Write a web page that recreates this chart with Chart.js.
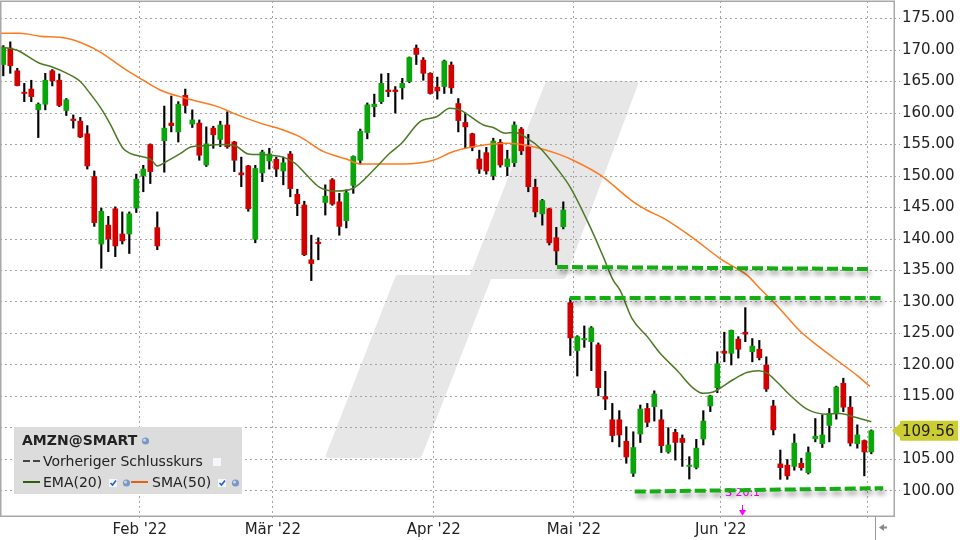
<!DOCTYPE html>
<html>
<head>
<meta charset="utf-8">
<script src="https://cdn.jsdelivr.net/npm/chart.js@4.4.0/dist/chart.umd.min.js"></script>
<style>
html, body { margin: 0; padding: 0; background: #fff; }
#graph { display: block; }
</style>
</head>
<body>
<canvas id="graph" width="960" height="540"></canvas>
<script>
// Handelstage 03.01.2022 - 01.07.2022
const dates = [
  "03.01","04.01","05.01","06.01","07.01","10.01","11.01","12.01","13.01","14.01","18.01","19.01","20.01","21.01","24.01","25.01","26.01","27.01","28.01","31.01",
  "01.02","02.02","03.02","04.02","07.02","08.02","09.02","10.02","11.02","14.02","15.02","16.02","17.02","18.02","22.02","23.02","24.02","25.02","28.02",
  "01.03","02.03","03.03","04.03","07.03","08.03","09.03","10.03","11.03","14.03","15.03","16.03","17.03","18.03","21.03","22.03","23.03","24.03","25.03","28.03","29.03","30.03","31.03",
  "01.04","04.04","05.04","06.04","07.04","08.04","11.04","12.04","13.04","14.04","18.04","19.04","20.04","21.04","22.04","25.04","26.04","27.04","28.04","29.04",
  "02.05","03.05","04.05","05.05","06.05","09.05","10.05","11.05","12.05","13.05","16.05","17.05","18.05","19.05","20.05","23.05","24.05","25.05","26.05","27.05","31.05",
  "01.06","02.06","03.06","06.06","07.06","08.06","09.06","10.06","13.06","14.06","15.06","16.06","17.06","21.06","22.06","23.06","24.06","27.06","28.06","29.06","30.06",
  "01.07"
];

const opens = [
  167.7,170.3,166.7,163.3,163.8,160.5,161.4,166.7,165.2,160.4,159.05,158.7,156.7,149.9,139.2,142.2,144.8,140.8,140.8,144.9,
  150.05,155.0,141.8,155.6,158.4,157.0,162.8,158.25,158.4,151.75,157.6,155.8,158.1,155.4,150.5,151.6,139.95,150.5,152.4,
  152.65,150.8,153.5,147.1,145.4,136.7,139.5,145.8,149.4,145.9,142.9,148.5,152.5,156.9,161.0,161.8,163.65,163.65,164.0,165.0,170.3,168.4,166.3,
  164.1,164.2,167.6,161.5,158.5,156.7,152.7,153.7,150.05,155.35,151.5,152.1,157.45,154.65,148.2,144.0,144.8,140.2,141.95,129.9,
  122.3,124.0,123.7,123.2,115.0,111.3,111.3,107.9,102.8,109.05,113.1,113.4,111.3,106.2,109.3,108.35,103.9,103.75,108.25,113.5,116.4,
  122.2,121.85,124.1,125.2,122.1,122.5,120.0,113.5,104.3,104.1,103.9,104.4,102.9,108.3,107.5,110.4,112.4,117.1,113.3,107.5,108.0,
  106.2
];
const highs = [
  170.7,171.3,167.1,164.7,165.2,161.6,166.3,166.9,166.2,162.3,159.7,159.3,158.0,150.8,144.9,143.6,145.1,144.3,144.3,150.3,
  151.7,155.1,144.3,161.1,162.7,161.8,163.8,160.5,158.9,157.8,157.9,158.7,160.2,155.5,153.0,151.7,151.7,154.1,154.4,
  153.0,153.0,153.9,147.9,146.0,140.6,140.2,148.6,149.6,147.25,147.8,153.2,157.45,161.6,163.0,166.2,166.3,164.2,165.5,168.9,170.8,168.8,166.4,
  165.7,168.4,168.1,162.3,160.0,156.8,154.1,154.55,156.0,155.8,154.1,158.6,157.7,156.6,149.5,146.3,144.9,141.85,145.9,130.6,
  124.65,126.2,126.1,123.5,119.0,113.9,112.75,110.2,109.4,113.65,113.9,115.9,112.9,110.05,109.8,108.9,105.45,108.2,112.75,115.2,122.1,
  125.2,125.55,124.5,129.1,124.2,123.9,121.3,114.4,106.5,105.0,109.05,105.2,107.0,111.5,112.1,113.1,116.65,117.9,115.0,110.5,108.1,
  109.7
];
const lows = [
  165.9,166.3,164.3,161.8,161.8,156.1,160.5,164.3,161.0,159.6,157.6,156.1,151.1,142.0,135.35,138.0,137.2,139.2,137.7,144.2,
  147.5,148.8,138.3,150.6,157.0,155.4,160.0,157.7,152.5,151.5,154.4,154.65,154.4,150.7,148.3,144.4,139.4,149.1,151.1,
  149.9,148.6,146.7,143.7,137.35,133.4,136.7,143.8,145.35,140.6,141.75,147.25,151.9,155.9,159.4,161.5,162.6,160.0,162.2,164.8,167.7,165.2,163.0,
  162.2,163.1,163.1,157.0,154.4,154.0,150.4,150.3,149.4,151.4,150.05,151.5,153.4,147.5,143.5,142.2,139.05,135.9,141.6,121.5,
  118.25,122.8,119.1,115.1,112.9,107.8,107.0,104.4,102.3,107.7,110.2,111.1,106.1,106.0,104.9,103.9,101.9,103.5,107.3,112.6,115.6,
  120.5,120.0,121.1,123.7,120.5,120.8,115.8,108.9,101.85,101.85,103.3,103.3,102.7,107.8,106.9,107.8,111.4,112.6,107.15,106.8,102.4,
  105.9
];
const closes = [
  170.4,167.5,164.35,163.1,162.6,161.4,165.2,165.1,161.2,162.1,158.8,156.2,151.6,142.6,144.4,140.0,138.9,139.7,144.0,149.5,
  151.1,150.7,138.9,157.6,158.0,161.4,161.2,158.9,153.3,155.1,156.55,158.1,154.65,152.5,150.2,144.8,151.2,153.8,153.5,
  151.1,152.1,148.0,145.6,137.5,136.1,139.25,146.8,145.55,142.0,147.35,153.1,157.1,161.3,161.4,164.7,163.4,163.4,164.7,168.8,169.3,166.3,163.1,
  163.5,168.25,164.0,158.8,157.8,154.55,151.1,150.8,155.55,151.75,152.7,158.1,154.0,148.3,144.3,146.1,139.4,138.1,144.6,124.3,
  124.5,124.2,125.9,116.4,114.6,108.8,108.9,105.4,106.9,113.0,110.9,115.4,107.2,107.3,107.7,107.7,104.1,106.8,111.1,115.1,120.2,
  121.85,125.5,122.5,124.9,123.0,121.15,116.2,109.7,103.7,102.4,107.6,103.7,106.1,108.7,108.9,112.3,116.5,113.3,107.6,108.9,106.2,
  109.56
];

// Indikatoren (x = Handelstag-Index)
const emaX = [-0.47,1.9,5.2,6.9,9.1,11,12.4,13.8,15.2,17.1,18.1,20.5,21.2,22,23.3,25.2,26.9,28.6,31,33.1,35,36.7,38.1,40,41.7,43.3,45.2,47.6,50,52.9,55.2,56.9,59.5,61.9,63.8,65.2,68.6,70,71.7,73.1,74.8,76.7,79.1,81,83.8,85.7,87.1,88.1,89.8,92,93.8,96.2,98.6,100,101.4,102.4,104.3,106.2,107.9,109.1,110.5,112.4,114.8,117.6,119.5,121.4,124];
const emaY = [170.5,170.0,167.9,167.35,166.3,165.0,163.1,161.0,158.4,154.4,153.6,152.9,152.5,151.6,152.3,153.5,154.65,154.8,155.0,154.8,153.5,153.4,153.3,153.0,152.0,150.2,148.2,147.6,148.05,150.95,153.6,155.2,158.6,159.4,160.75,160.5,158.1,157.7,156.8,156.9,156.0,154.4,151.2,148.2,142.0,137.2,133.5,131.9,127.4,124.5,121.9,119.2,116.3,115.5,115.7,116.3,117.7,118.8,119.1,118.7,117.35,115.2,113.0,112.2,112.3,111.8,111.0];
const smaX = [-0.47,2.4,5.2,9,11.9,13.8,17.6,20,22.4,26.2,30.9,32.9,36.7,40,42.4,45.7,49.1,51,57.1,61.4,64.3,67.1,71.9,75.7,79.5,81.4,85.2,90,91.9,94.3,98.6,102.4,104.3,106.2,108.3,110,111.9,113.8,117.1,120,121.9,123.8];
const smaY = [172.65,172.65,172.2,171.85,170.8,169.7,166.8,165.2,163.65,162.3,160.9,159.95,158.4,157.3,156.2,153.9,152.65,151.9,151.9,152.5,153.9,154.65,155.2,154.65,153.4,152.5,150.2,145.9,144.6,143.3,140.1,136.9,135.6,134.3,131.9,130.05,127.7,125.4,122.4,120.0,118.4,116.6];

// eingezeichnete Linien
const level1X = [79.1, 123.9], level1Y = [135.56, 135.24];
const level2X = [80.9, 125.6], level2Y = [130.65, 130.65];
const level3X = [90.2, 125.7], level3Y = [99.9, 100.45];

const monthTicks = [19.5, 38.5, 61.5, 81.5, 102.5, 123.5];
const monthLabels = ["Feb '22", "M\u00e4r '22", "Apr '22", "Mai '22", "Jun '22", ""];
const priceTicks = [100, 105, 110, 115, 120, 125, 130, 135, 140, 145, 150, 155, 160, 165, 170, 175];
const lastClose = 109.56;
const splitIndex = 105.6;

Chart.defaults.font.family = "'DejaVu Sans', sans-serif";
Chart.defaults.color = '#222';

const up = '#0aa50a', down = '#d40000';
const candleColors = closes.map((c, i) => c >= opens[i] ? up : down);
const pts = (xs, ys) => xs.map((x, k) => ({x: x, y: ys[k]}));

// Logo im Hintergrund (Pixel)
const logo = [[329,455],[398,278],[472,278],[548,84],[635,84],[563,276],[489,276],[419,455]];

const decor = {
  id: 'decor',
  beforeDraw(chart) {
    const ctx = chart.ctx;
    ctx.save();
    ctx.fillStyle = '#fff';
    ctx.fillRect(0, 0, chart.width, chart.height);
    ctx.beginPath();
    logo.forEach(([x, y], k) => k ? ctx.lineTo(x, y) : ctx.moveTo(x, y));
    ctx.closePath();
    ctx.fillStyle = '#e7e7e7';
    ctx.strokeStyle = '#e7e7e7';
    ctx.lineWidth = 6;
    ctx.lineJoin = 'round';
    ctx.fill();
    ctx.stroke();
    ctx.restore();
  },
  beforeDatasetsDraw(chart) {
    // Split-Marker
    const ctx = chart.ctx;
    const x = chart.scales.x.getPixelForValue(splitIndex);
    const b = chart.chartArea.bottom;
    ctx.save();
    ctx.fillStyle = '#ff00ff';
    ctx.strokeStyle = '#ff00ff';
    ctx.font = '11px "DejaVu Sans"';
    ctx.textAlign = 'center';
    ctx.textBaseline = 'middle';
    ctx.fillText('S 20:1', x, b - 23);
    ctx.lineWidth = 1;
    ctx.beginPath();
    ctx.moveTo(x, b - 11);
    ctx.lineTo(x, b - 5);
    ctx.stroke();
    ctx.beginPath();
    ctx.moveTo(x - 3.5, b - 6);
    ctx.lineTo(x + 3.5, b - 6);
    ctx.lineTo(x, b);
    ctx.closePath();
    ctx.fill();
    ctx.restore();
  },
  beforeDatasetDraw(chart, args) {
    if (chart.data.datasets[args.index].shadow) {
      const ctx = chart.ctx;
      ctx.save();
      ctx.shadowColor = 'rgba(0,0,0,0.38)';
      ctx.shadowBlur = 5;
      ctx.shadowOffsetX = 2;
      ctx.shadowOffsetY = 4;
    }
  },
  afterDatasetDraw(chart, args) {
    if (chart.data.datasets[args.index].shadow) chart.ctx.restore();
  },
  afterDraw(chart) {
    const ctx = chart.ctx;
    const a = chart.chartArea;
    ctx.save();
    // Rahmen
    ctx.strokeStyle = '#a8a8a8';
    ctx.lineWidth = 1.5;
    ctx.strokeRect(a.left + 0.75, a.top + 0.25, a.right - a.left - 0.5, a.bottom - a.top);

    // Kursmarke
    const y = chart.scales.y.getPixelForValue(lastClose);
    const r = a.right;
    ctx.fillStyle = '#cccc33';
    ctx.beginPath();
    ctx.moveTo(r - 2, y);
    ctx.lineTo(r + 6, y - 7);
    ctx.lineTo(r + 6, y - 9);
    ctx.quadraticCurveTo(r + 6, y - 10, r + 8, y - 10);
    ctx.lineTo(r + 64, y - 10);
    ctx.lineTo(r + 64, y + 10);
    ctx.lineTo(r + 8, y + 10);
    ctx.quadraticCurveTo(r + 6, y + 10, r + 6, y + 9);
    ctx.lineTo(r + 6, y + 7);
    ctx.closePath();
    ctx.fill();
    ctx.fillStyle = '#222';
    ctx.font = '15px "DejaVu Sans"';
    ctx.textBaseline = 'middle';
    ctx.textAlign = 'left';
    ctx.fillText(lastClose.toFixed(2), r + 8, y + 1);

    // Navigation unten rechts
    ctx.strokeStyle = '#999';
    ctx.lineWidth = 1;
    ctx.beginPath();
    ctx.moveTo(875.5, a.bottom);
    ctx.lineTo(875.5, 540);
    ctx.stroke();
    ctx.fillStyle = '#8a8a8a';
    ctx.beginPath();
    ctx.moveTo(879, 527.5);
    ctx.lineTo(884, 524);
    ctx.lineTo(884, 531);
    ctx.closePath();
    ctx.fill();
    ctx.fillRect(884, 526.5, 3, 2);

    // Legende
    ctx.fillStyle = '#dcdcdc';
    ctx.fillRect(14, 427, 228, 67);
    ctx.fillStyle = '#222';
    ctx.textBaseline = 'middle';
    ctx.font = 'bold 14px "DejaVu Sans"';
    ctx.fillText('AMZN@SMART', 22, 441);
    ctx.font = '14px "DejaVu Sans"';
    ctx.fillText('Vorheriger Schlusskurs', 43, 462);
    ctx.fillText('EMA(20)', 43, 483);
    ctx.fillText('SMA(50)', 152, 483);

    ctx.lineWidth = 2;
    ctx.strokeStyle = '#444';
    ctx.setLineDash([7, 3]);
    ctx.beginPath(); ctx.moveTo(23, 461); ctx.lineTo(40, 461); ctx.stroke();
    ctx.setLineDash([]);
    ctx.strokeStyle = '#2f5e0e';
    ctx.beginPath(); ctx.moveTo(23, 482); ctx.lineTo(40, 482); ctx.stroke();
    ctx.strokeStyle = '#e8600f';
    ctx.beginPath(); ctx.moveTo(131, 482); ctx.lineTo(148, 482); ctx.stroke();

    const globe = (gx, gy) => {
      ctx.fillStyle = '#7d97c4';
      ctx.beginPath(); ctx.arc(gx, gy, 3.6, 0, Math.PI * 2); ctx.fill();
      ctx.fillStyle = '#c9d6ec';
      ctx.beginPath(); ctx.arc(gx - 1, gy - 1, 1.5, 0, Math.PI * 2); ctx.fill();
    };
    const box = (bx, by, checked) => {
      ctx.fillStyle = '#f6f6fb';
      ctx.fillRect(bx, by, 8, 8);
      if (checked) {
        ctx.strokeStyle = '#1d5fd6';
        ctx.lineWidth = 1.6;
        ctx.beginPath(); ctx.moveTo(bx + 1.5, by + 4); ctx.lineTo(bx + 3.5, by + 6); ctx.lineTo(bx + 7, by + 1.5); ctx.stroke();
      }
    };
    globe(145.5, 441);
    box(213, 458, false);
    box(109, 479, true);
    globe(126.5, 483);
    box(218, 479, true);
    globe(235.5, 483);
    ctx.restore();
  }
};

const levelStyle = {
  type: 'line', borderColor: '#14ad14', borderWidth: 4, borderDash: [11, 4],
  pointRadius: 0, fill: false, shadow: true, order: 1
};

new Chart(document.getElementById('graph'), {
  type: 'bar',
  data: {
    datasets: [
      {
        label: 'Docht',
        data: dates.map((d, i) => ({x: i, y: [lows[i], highs[i]]})),
        backgroundColor: '#000',
        barThickness: 1.5,
        grouped: false,
        borderWidth: 0,
        order: 5
      },
      {
        label: 'AMZN',
        data: dates.map((d, i) => ({x: i, y: [opens[i], closes[i]]})),
        backgroundColor: candleColors,
        barThickness: 5,
        grouped: false,
        borderWidth: 0,
        order: 4
      },
      {
        type: 'line', label: 'SMA(50)', data: pts(smaX, smaY),
        borderColor: '#ff7a1e', borderWidth: 1.5, pointRadius: 0,
        cubicInterpolationMode: 'monotone', fill: false, order: 3
      },
      {
        type: 'line', label: 'EMA(20)', data: pts(emaX, emaY),
        borderColor: '#4b7a22', borderWidth: 1.5, pointRadius: 0,
        cubicInterpolationMode: 'monotone', fill: false, order: 2
      },
      Object.assign({label: 'Linie 1', data: pts(level1X, level1Y)}, levelStyle),
      Object.assign({label: 'Linie 2', data: pts(level2X, level2Y)}, levelStyle),
      Object.assign({label: 'Linie 3', data: pts(level3X, level3Y)}, levelStyle)
    ]
  },
  options: {
    responsive: false,
    animation: false,
    events: [],
    layout: { padding: { left: 0, top: 1, right: 0, bottom: 0 } },
    plugins: {
      legend: { display: false },
      tooltip: { enabled: false }
    },
    scales: {
      x: {
        type: 'linear',
        min: -0.47,
        max: 127.24,
        offset: false,
        afterFit(s) { s.height = 24; s.paddingLeft = 0; s.paddingRight = 0; },
        afterBuildTicks(s) { s.ticks = monthTicks.map(v => ({value: v})); },
        grid: { offset: false, color: '#a4a4a4', lineWidth: 1, tickLength: 4, tickColor: '#a4a4a4', tickBorderDash: [2, 3] },
        border: { display: true, width: 0, dash: [2, 3] },
        ticks: {
          autoSkip: false, maxRotation: 0, padding: 1,
          font: { size: 15 }, color: '#222',
          callback: (v, k) => monthLabels[k]
        }
      },
      y: {
        position: 'right',
        min: 96.03,
        max: 177.78,
        afterFit(s) { s.width = 66; s.paddingTop = 0; s.paddingBottom = 0; },
        afterBuildTicks(s) { s.ticks = priceTicks.map(v => ({value: v})); },
        grid: { color: '#a4a4a4', lineWidth: 1, tickLength: 6, tickColor: '#a4a4a4', tickBorderDash: [2, 3] },
        border: { display: true, width: 0, dash: [2, 3] },
        ticks: {
          padding: 2, font: { size: 15 }, color: '#222',
          // der Wert unter der Kursmarke bleibt verdeckt
          callback: v => Math.abs(v - lastClose) < 2.5 ? '' : v.toFixed(2)
        }
      }
    }
  },
  plugins: [decor]
});
</script>
</body>
</html>
